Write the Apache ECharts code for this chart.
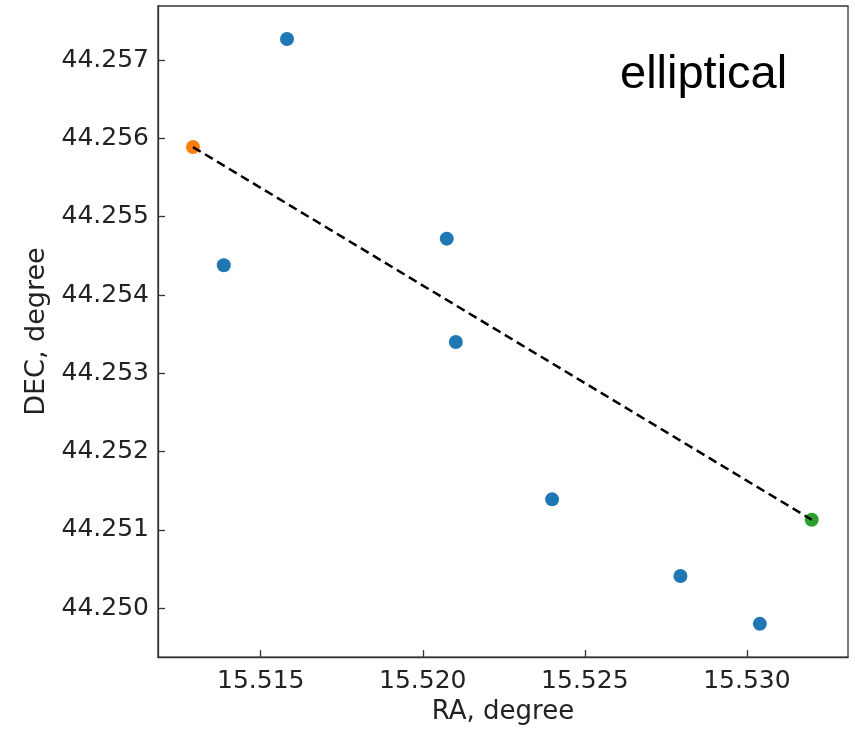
<!DOCTYPE html>
<html>
<head>
<meta charset="utf-8">
<script src="https://cdn.jsdelivr.net/npm/echarts@6/dist/echarts.min.js"></script>
<style>
html,body{margin:0;padding:0;background:#fff;}
#chart{width:855px;height:730px;}
</style>
</head>
<body>
<div id="chart"></div>
<script>
// Data
const raBlue  = [15.51581, 15.51386, 15.52074, 15.52102, 15.52399, 15.52795, 15.53040];
const decBlue = [44.25727, 44.25438, 44.25472, 44.25340, 44.25139, 44.25041, 44.24980];
const raStart  = [15.51291];
const decStart = [44.25589];
const raEnd  = [15.53200];
const decEnd = [44.25113];
const xTicks = [15.515, 15.520, 15.525, 15.530];
const yTicks = [44.250, 44.251, 44.252, 44.253, 44.254, 44.255, 44.256, 44.257];
const xName = 'RA, degree';
const yName = 'DEC, degree';
const label = 'elliptical';

const pairs = (xs, ys) => xs.map((x, i) => [x, ys[i]]);

const chart = echarts.init(document.getElementById('chart'), null, {renderer: 'canvas'});
const axisFont = {fontFamily: 'DejaVu Sans', fontSize: 25, color: '#222'};
chart.setOption({
  backgroundColor: '#fff',
  animation: false,
  grid: {left: 158, right: 7, top: 6, bottom: 72, show: true, borderColor: '#333', borderWidth: 1.3, backgroundColor: 'transparent'},
  xAxis: {
    type: 'value', min: 15.51183, max: 15.53312,
    name: xName, nameLocation: 'middle', nameGap: 41,
    nameTextStyle: {...axisFont, fontSize: 26},
    axisLine: {show: true, lineStyle: {color: '#333', width: 1.3}},
    axisTick: {show: true, inside: true, length: 7, lineStyle: {color: '#333', width: 1.3}, customValues: xTicks},
    axisLabel: {...axisFont, margin: 12, customValues: xTicks, formatter: v => v.toFixed(3)},
    splitLine: {show: false}
  },
  yAxis: {
    type: 'value', min: 44.249375, max: 44.257692,
    name: yName, nameLocation: 'middle', nameGap: 108, nameRotate: 90,
    nameTextStyle: {...axisFont, fontSize: 27},
    axisLine: {show: true, lineStyle: {color: '#333', width: 1.3}},
    axisTick: {show: true, inside: true, length: 7, lineStyle: {color: '#333', width: 1.3}, customValues: yTicks},
    axisLabel: {...axisFont, margin: 9, customValues: yTicks, formatter: v => v.toFixed(3)},
    splitLine: {show: false}
  },
  graphic: [{
    type: 'text', left: 620, top: 52,
    style: {text: label, font: '47px "Liberation Sans"', fill: '#000'}
  }],
  series: [
    {type: 'scatter', data: pairs(raBlue, decBlue), symbolSize: 14, itemStyle: {color: '#1f77b4', opacity: 1}, z: 2},
    {type: 'scatter', data: pairs(raStart, decStart), symbolSize: 14, itemStyle: {color: '#ff7f0e', opacity: 1}, z: 2},
    {type: 'scatter', data: pairs(raEnd, decEnd), symbolSize: 14, itemStyle: {color: '#2ca02c', opacity: 1}, z: 2},
    {type: 'line', data: [pairs(raStart, decStart)[0], pairs(raEnd, decEnd)[0]], showSymbol: false, symbol: 'none',
     lineStyle: {color: '#000', width: 2.5, type: [9, 5]}, z: 3, silent: true}
  ]
});
</script>
</body>
</html>
